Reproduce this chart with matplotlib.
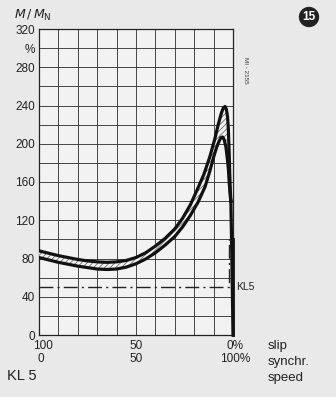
import matplotlib
matplotlib.use("Agg")
import matplotlib.pyplot as plt
from matplotlib.patches import Polygon

plt.rcParams['font.family'] = ['Liberation Sans Narrow', 'Liberation Sans', 'DejaVu Sans']
plt.rcParams['hatch.linewidth'] = 0.6

# torque band, outer (upper) edge: speed in % of synchronous, M/MN in %
speed_upper = [0, 5, 10, 15, 20, 25, 30, 35, 40, 45, 50, 55, 60, 65, 70, 74, 78, 82, 85, 88,
               90.5, 92.5, 94, 95, 95.9, 96.6, 97.2, 97.6, 98, 98.3, 98.6, 98.9]
torque_upper = [88, 85.5, 83, 81, 79, 77.5, 76.5, 76, 76.5, 78, 81, 86, 93, 101, 111, 122, 136, 154, 168, 186,
                204, 221, 232, 237.5, 239, 236, 228, 215, 192, 170, 152, 140]

# inner (lower) edge
speed_lower = [0, 5, 10, 15, 20, 25, 30, 35, 40, 45, 50, 55, 60, 65, 70, 74, 78, 82, 85.6, 88,
               90, 91.5, 92.9, 93.8, 94.7, 95.5, 96.4, 97, 97.6, 98.1, 98.6, 98.9]
torque_lower = [81, 78.5, 76, 74, 72, 70.5, 69, 68.5, 69, 71, 74.5, 79.5, 86, 94, 103, 113, 125, 139, 155, 171,
                186, 196, 203, 206.5, 207, 204, 196, 186, 174, 158, 145, 140]

# common run-out of the band down to synchronous speed
speed_tail = [98.9, 99.5, 100]
torque_tail = [140, 70, 0]

# dash-dot load line KL5
load_speed = [0, 97.8, 97.8]
load_torque = [50, 50, 100]

yticks = list(range(0, 321, 20))
ylabels = ['' if v % 40 else str(v) for v in yticks]
ylabels[yticks.index(300)] = '%'
slip_labels = ['100', '50', '0%']
speed_labels = ['0', '50', '100%']
label_pos = [0, 50, 100]

fig = plt.figure(figsize=(3.36, 3.97), dpi=100, facecolor='#e9e9e9')
ax = fig.add_axes([39 / 336, 1 - 335 / 397, 194 / 336, 306 / 397])
ax.set_facecolor('#f2f2f2')

ax.set_xlim(0, 100)
ax.set_ylim(0, 320)
ax.set_xticks(range(0, 101, 10))
ax.set_xticklabels([])
ax.set_yticks(yticks)
ax.set_yticklabels(ylabels, fontsize=8.5, color='#222')
ax.tick_params(length=0, pad=3)
ax.grid(True, color='#2a2a2a', lw=0.6)
for s in ax.spines.values():
    s.set_color('#222')
    s.set_linewidth(0.9)

# hatched band between the two edges
band = list(zip(speed_upper, torque_upper)) + list(zip(speed_lower, torque_lower))[::-1]
ax.add_patch(Polygon(band, closed=True, facecolor='#f2f2f2', edgecolor='#6e6e6e',
                     hatch='//////', lw=0, zorder=3))
ax.plot(speed_upper, torque_upper, color='#111', lw=2.3, solid_joinstyle='round', zorder=4)
ax.plot(speed_lower, torque_lower, color='#111', lw=2.3, solid_joinstyle='round', zorder=4)
ax.plot(speed_tail, torque_tail, color='#111', lw=2.3, zorder=4, clip_on=False)
ax.plot([100, 100], [0, 100], color='#111', lw=2.0, zorder=4, clip_on=False)

ax.plot(load_speed, load_torque, color='#222', lw=1.0, linestyle=(0, (10, 3, 1.5, 3)), zorder=5)
ax.text(101.5, 50, 'KL5', fontsize=7.5, color='#222', va='center', ha='left')

# two-row x labels: slip above, synchronous speed below
for x, s1, s2 in zip(label_pos, slip_labels, speed_labels):
    ax.text(x + (2 if x == 0 else 0) + (1 if x == 100 else 0), -12, s1, fontsize=8.5, color='#222', ha='center', va='center')
    ax.text(x + (1 if x == 0 else 0) + (1 if x == 100 else 0), -25.5, s2, fontsize=8.5, color='#222', ha='center', va='center')

fig.text(268 / 336, 1 - 346 / 397, 'slip', fontsize=9.5, color='#222', va='center')
fig.text(268 / 336, 1 - 362 / 397, 'synchr.', fontsize=9.5, color='#222', va='center')
fig.text(268 / 336, 1 - 378 / 397, 'speed', fontsize=9.5, color='#222', va='center')
fig.text(7 / 336, 1 - 376 / 397, 'KL 5', fontsize=10.5, color='#222', va='center')

fig.text(14 / 336, 1 - 15 / 397, r'$M\,/\,M_{\mathrm{N}}$', fontsize=9, color='#222', va='center')
fig.text(245 / 336, 1 - 70 / 397, 'MI - 2155', fontsize=4.5, color='#333',
         rotation=270, ha='center', va='center')
fig.text(309 / 336, 1 - 17 / 397, '15', fontsize=8.5, color='white', weight='bold',
         ha='center', va='center',
         bbox=dict(boxstyle='circle,pad=0.3', fc='#222', ec='none'))

fig.savefig('out.png', dpi=100, facecolor=fig.get_facecolor())
